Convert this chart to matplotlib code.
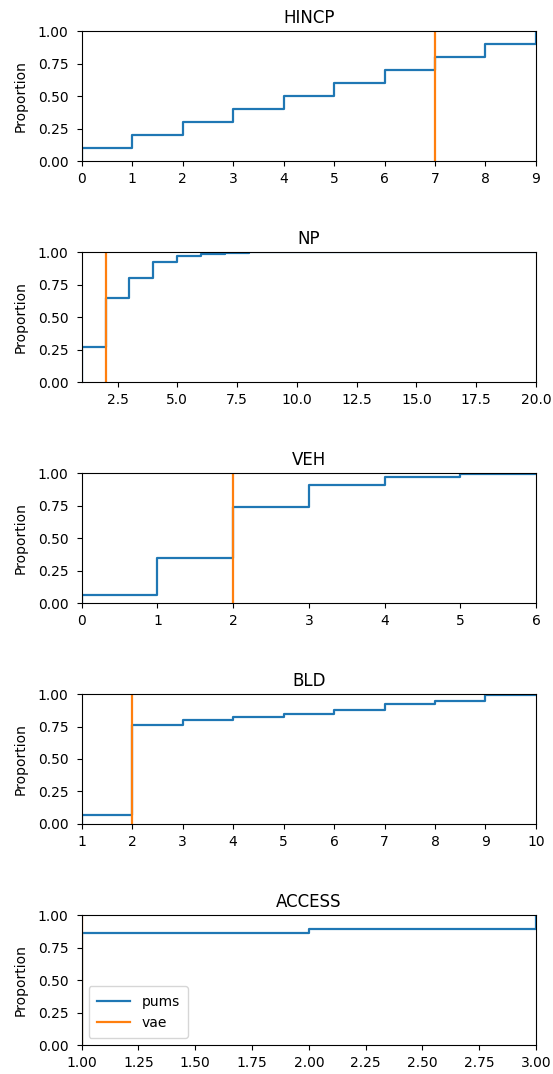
import numpy as np
import matplotlib
matplotlib.use("Agg")
import matplotlib.pyplot as plt
from matplotlib.ticker import MultipleLocator

variables = ["HINCP", "NP", "VEH", "BLD", "ACCESS"]

hincp_x = [0, 1, 2, 3, 4, 5, 6, 7, 8, 9]
hincp_cdf = [0.10, 0.20, 0.30, 0.40, 0.50, 0.60, 0.70, 0.80, 0.90, 1.00]

np_x = [1, 2, 3, 4, 5, 6, 7, 8, 9, 10, 20]
np_cdf = [0.27, 0.65, 0.80, 0.92, 0.97, 0.985, 0.994, 0.998, 0.999, 0.9995, 1.00]

veh_x = [0, 1, 2, 3, 4, 5, 6]
veh_cdf = [0.06, 0.35, 0.74, 0.91, 0.97, 0.99, 1.00]

bld_x = [1, 2, 3, 4, 5, 6, 7, 8, 9, 10]
bld_cdf = [0.07, 0.76, 0.80, 0.82, 0.85, 0.88, 0.92, 0.95, 0.995, 1.00]

access_x = [1, 2, 3]
access_cdf = [0.86, 0.89, 1.00]

# the vae samples are a single constant value per variable
vae_value = [7, 2, 2, 2, 1]

pums_x = [hincp_x, np_x, veh_x, bld_x, access_x]
pums_cdf = [hincp_cdf, np_cdf, veh_cdf, bld_cdf, access_cdf]
tick_step = [1, 2.5, 1, 1, 0.25]

fig = plt.figure(figsize=(5.53, 10.74), dpi=100)

bottoms = [0.850, 0.6443, 0.4385, 0.2328, 0.027]
for i, name in enumerate(variables):
    ax = fig.add_axes([0.1477, bottoms[i], 0.8215, 0.121])
    x = pums_x[i]
    y = pums_cdf[i]
    ax.step([x[0]] + x, [0] + y, where="post", label="pums", lw=1.6)
    v = vae_value[i]
    ax.step([v, v], [0, 1], where="post", label="vae", lw=1.6)
    ax.set_xlim(min(x), max(x))
    ax.set_ylim(0, 1)
    ax.xaxis.set_major_locator(MultipleLocator(tick_step[i]))
    ax.yaxis.set_major_locator(MultipleLocator(0.25))
    ax.tick_params(axis="y", pad=6)
    ax.tick_params(axis="x", pad=4.5)
    ax.set_ylabel("Proportion", labelpad=7)
    ax.set_title(name)
    if name == "ACCESS":
        ax.legend(loc="lower left", handlelength=2.4, borderpad=0.6)

fig.savefig("out.png", dpi=100)
